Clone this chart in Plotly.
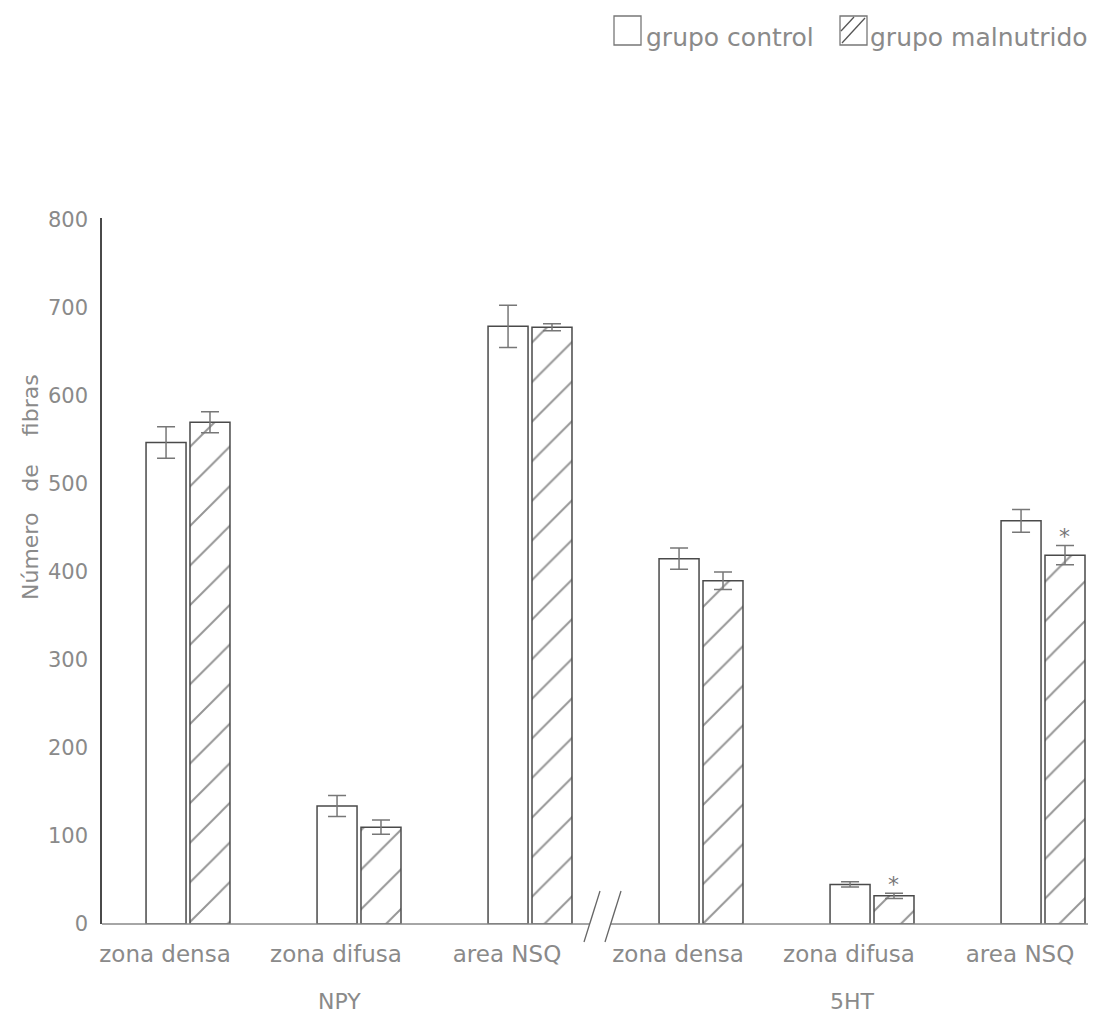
import plotly.graph_objects as go

# ---- data ----
regions = ["zona densa", "zona difusa", "area NSQ", "zona densa", "zona difusa", "area NSQ"]
positions = [0, 1, 2, 3, 4, 5]
group_labels = ["NPY", "5HT"]
group_centers = [1, 4]
control_vals = [547, 134, 679, 415, 45, 458]
control_err = [18, 12, 24, 12, 3, 13]
maln_vals = [570, 110, 678, 390, 32, 419]
maln_err = [12, 8, 4, 10, 3, 11]
signif = [False, False, False, False, True, True]
y_ticks = [0, 100, 200, 300, 400, 500, 600, 700, 800]
series_names = ["grupo control", "grupo malnutrido"]

TXT = "#8a8a8a"
LINE = "#4a4a4a"
FONT = "DejaVu Sans"

fig = go.Figure()
fig.add_trace(go.Bar(
    x=positions, y=control_vals, name=series_names[0],
    marker=dict(color="white", line=dict(color=LINE, width=1.5)),
    error_y=dict(type="data", array=control_err, color="#777", thickness=1.5, width=9),
    showlegend=False,
))
fig.add_trace(go.Bar(
    x=positions, y=maln_vals, name=series_names[1],
    marker=dict(color="white", line=dict(color=LINE, width=1.5),
                pattern=dict(shape="/", fgcolor="#2e2e2e", bgcolor="white", size=28, solidity=0.07)),
    error_y=dict(type="data", array=maln_err, color="#777", thickness=1.5, width=9),
    showlegend=False,
))

W, H = 1097, 1016
L, R, T, B = 94, 17, 210, 100
pw, ph = W - L - R, H - T - B

def px_x(p):
    return (p - L) / pw

def px_y(p):
    return (H - B - p) / ph

shapes = []
# x axis line with break
shapes.append(dict(type="line", xref="paper", yref="paper", x0=0, x1=px_x(582), y0=0, y1=0,
                   line=dict(color="#888", width=1.5)))
shapes.append(dict(type="line", xref="paper", yref="paper", x0=px_x(603), x1=1, y0=0, y1=0,
                   line=dict(color="#888", width=1.5)))
# break slashes
for (xa, xb) in [(592, 576), (613, 597)]:
    shapes.append(dict(type="line", xref="paper", yref="paper",
                       x0=px_x(xa), y0=px_y(883), x1=px_x(xb), y1=px_y(934),
                       line=dict(color="#666", width=1.3)))

# manual legend
boxes = [(606, 633), (832, 859)]
for i, (bx0, bx1) in enumerate(boxes):
    shapes.append(dict(type="rect", xref="paper", yref="paper",
                       x0=px_x(bx0), x1=px_x(bx1), y0=px_y(37), y1=px_y(8),
                       line=dict(color="#777", width=1.3), fillcolor="white"))
    if i == 1:
        shapes.append(dict(type="line", xref="paper", yref="paper",
                           x0=px_x(bx0 + 2), y0=px_y(35), x1=px_x(bx1 - 2), y1=px_y(10),
                           line=dict(color="#555", width=1.3)))
        shapes.append(dict(type="line", xref="paper", yref="paper",
                           x0=px_x(bx0 + 1), y0=px_y(23), x1=px_x(bx0 + 14), y1=px_y(9),
                           line=dict(color="#555", width=1.3)))

annotations = []
text_left = [637, 861]
for name, tx in zip(series_names, text_left):
    annotations.append(dict(text=name, xref="paper", yref="paper", x=px_x(tx), y=px_y(29),
                            xanchor="left", yanchor="middle", showarrow=False, borderpad=0,
                            font=dict(family=FONT, size=25, color=TXT)))

# group labels
for g, c in zip(group_labels, group_centers):
    annotations.append(dict(text=g, xref="x", yref="paper", x=c, y=px_y(993), xshift=-20,
                            xanchor="center", yanchor="middle", showarrow=False,
                            font=dict(family=FONT, size=22, color=TXT)))

# significance asterisks
for p, v, e, s in zip(positions, maln_vals, maln_err, signif):
    if s:
        annotations.append(dict(text="*", xref="x", yref="y", x=p, y=v + e, xshift=21.5, yshift=9,
                                xanchor="center", yanchor="middle", showarrow=False,
                                font=dict(family=FONT, size=22, color="#777")))

# y axis title
annotations.append(dict(text="Número\u00a0\u00a0\u00a0de\u00a0\u00a0\u00a0\u00a0fibras",
                        xref="paper", yref="paper", x=px_x(22), y=px_y(479),
                        textangle=-90, xanchor="center", yanchor="middle", showarrow=False,
                        font=dict(family=FONT, size=22, color=TXT)))

fig.update_layout(
    width=W, height=H,
    margin=dict(l=L, r=R, t=T, b=B, pad=0),
    paper_bgcolor="white", plot_bgcolor="white",
    barmode="group", bargap=0.486, bargroupgap=0.09,
    font=dict(family=FONT, color=TXT),
    shapes=shapes, annotations=annotations,
    showlegend=False,
)
fig.update_xaxes(
    range=[-0.503, 5.263], tickmode="array", tickvals=positions, ticktext=regions,
    showgrid=False, zeroline=False, showline=False, ticks="",
    tickfont=dict(family=FONT, size=23, color=TXT), ticklabelshift=-23, ticklabelstandoff=14,
)
fig.update_yaxes(
    range=[0, 802], tickmode="array", tickvals=y_ticks, ticktext=[str(v) for v in y_ticks],
    showgrid=False, zeroline=False, showline=True, linecolor=LINE, linewidth=1.5, ticks="",
    tickfont=dict(family=FONT, size=21, color=TXT), ticklabelstandoff=8,
)

fig.write_html("out.html")
